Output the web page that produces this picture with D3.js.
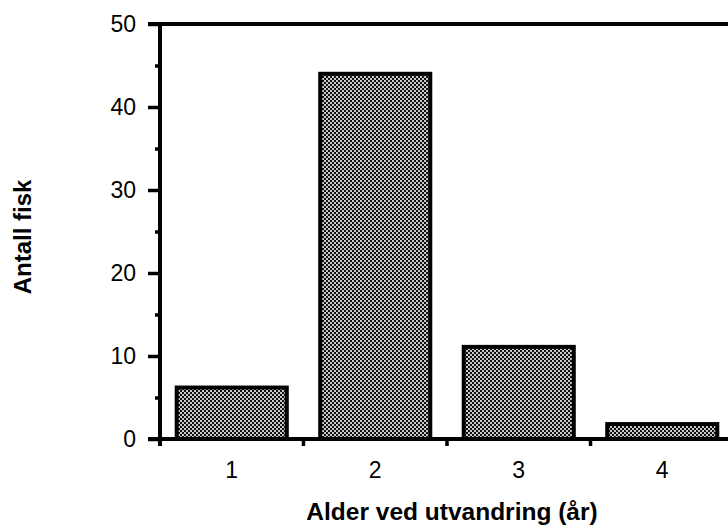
<!DOCTYPE html>
<html>
<head>
<meta charset="utf-8">
<script src="https://cdn.jsdelivr.net/npm/d3@7"></script>
<style>
  body { margin: 0; background: #fff; }
  svg { display: block; font-family: "Liberation Sans", Arial, sans-serif; }
</style>
</head>
<body>
<svg id="chart"></svg>
<script>
const ages = ['1', '2', '3', '4'];
const fishCounts = [6.2, 44, 11.1, 1.8];
const yTicks = [0, 10, 20, 30, 40, 50];
const yMinorTicks = [5, 15, 25, 35, 45];
const xTitle = 'Alder ved utvandring (år)';
const yTitle = 'Antall fisk';

const config = {
    containerWidth: 728,
    containerHeight: 531,
    margin: { top: 24, right: -6, bottom: 92, left: 160 }
};
const width = config.containerWidth - config.margin.left - config.margin.right;
const height = config.containerHeight - config.margin.top - config.margin.bottom;
const lineW = 4;

const svg = d3.select('#chart')
    .attr('width', config.containerWidth)
    .attr('height', config.containerHeight);

// stippled fill like the scanned original
const defs = svg.append('defs');
const pat = defs.append('pattern')
    .attr('id', 'stipple')
    .attr('patternUnits', 'userSpaceOnUse')
    .attr('width', 4)
    .attr('height', 4);
pat.append('rect').attr('width', 4).attr('height', 4).attr('fill', '#111');
pat.append('rect').attr('width', 2).attr('height', 2).attr('fill', '#c8c8c8');
pat.append('rect').attr('x', 2).attr('y', 2).attr('width', 2).attr('height', 2).attr('fill', '#c8c8c8');

const chart = svg.append('g')
    .attr('transform', `translate(${config.margin.left},${config.margin.top})`);

const xScale = d3.scaleBand()
    .domain(ages)
    .range([0, width])
    .paddingInner(0.233)
    .paddingOuter(0.1165);

const yScale = d3.scaleLinear()
    .domain([0, 50])
    .range([height, 0]);

// bars
chart.selectAll('.bar')
    .data(ages)
    .join('rect')
    .attr('class', 'bar')
    .attr('x', d => xScale(d))
    .attr('y', (d, i) => yScale(fishCounts[i]))
    .attr('width', xScale.bandwidth())
    .attr('height', (d, i) => height - yScale(fishCounts[i]))
    .attr('fill', 'url(#stipple)')
    .attr('stroke', '#000')
    .attr('stroke-width', lineW);

// y axis, major + minor
const yAxis = d3.axisLeft(yScale)
    .tickValues(yTicks)
    .tickSize(12)
    .tickPadding(12)
    .tickSizeOuter(0);

const yAxisG = chart.append('g')
    .attr('class', 'axis y-axis')
    .call(yAxis)
    .call(g => g.select('.domain').remove())
    .attr('font-size', 23)
    .attr('font-family', null);
yAxisG.selectAll('line').attr('stroke', '#000').attr('stroke-width', 3.5);
yAxisG.selectAll('text').attr('fill', '#000');

chart.append('g')
    .call(d3.axisLeft(yScale).tickValues(yMinorTicks).tickSize(5).tickFormat(''))
    .call(g => g.select('.domain').remove())
    .selectAll('line').attr('stroke', '#000').attr('stroke-width', 3.5);

// x axis labels at band centres
const xAxisG = chart.append('g')
    .attr('class', 'axis x-axis')
    .attr('transform', `translate(0,${height})`)
    .call(d3.axisBottom(xScale).tickSize(0).tickPadding(23))
    .call(g => g.select('.domain').remove())
    .attr('font-size', 23)
    .attr('font-family', null);
xAxisG.selectAll('text').attr('fill', '#000');

// separator ticks between categories
const step = xScale.step();
const bounds = ages.slice(1).map(d => xScale(d) - step * xScale.paddingInner() / 2);
chart.append('g')
    .attr('transform', `translate(0,${height})`)
    .selectAll('line')
    .data(bounds)
    .join('line')
    .attr('x1', d => d).attr('x2', d => d)
    .attr('y1', 0).attr('y2', 7)
    .attr('stroke', '#000')
    .attr('stroke-width', 3.5);

// frame lines: left axis, top and bottom rules
chart.append('line')
    .attr('x1', 0).attr('x2', 0)
    .attr('y1', yScale(50) - 2).attr('y2', height + 7)
    .attr('stroke', '#000').attr('stroke-width', lineW);
chart.append('line')
    .attr('x1', -12).attr('x2', width)
    .attr('y1', yScale(50)).attr('y2', yScale(50))
    .attr('stroke', '#000').attr('stroke-width', lineW);
chart.append('line')
    .attr('x1', -12).attr('x2', width)
    .attr('y1', height).attr('y2', height)
    .attr('stroke', '#000').attr('stroke-width', lineW);

// titles
svg.append('text')
    .attr('x', 452)
    .attr('y', 520)
    .attr('text-anchor', 'middle')
    .attr('font-weight', 'bold')
    .attr('font-size', 24.5)
    .text(xTitle);

svg.append('text')
    .attr('transform', 'translate(31,237) rotate(-90)')
    .attr('text-anchor', 'middle')
    .attr('font-weight', 'bold')
    .attr('font-size', 24)
    .text(yTitle);
</script>
</body>
</html>
